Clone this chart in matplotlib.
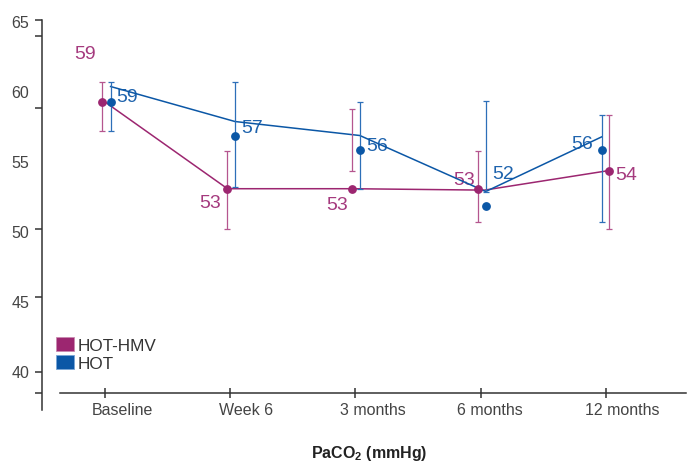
import matplotlib
matplotlib.use("Agg")
import matplotlib.pyplot as plt
from matplotlib.patches import Patch

plt.rcParams["font.family"] = ["Liberation Sans Narrow", "Liberation Sans", "DejaVu Sans"]
plt.rcParams["mathtext.default"] = "regular"

# --- data ---
categories = ["Baseline", "Week 6", "3 months", "6 months", "12 months"]

hmv_mean = [59.2, 53.0, 53.0, 53.0, 54.3]
hmv_hi = [60.6, 55.7, 58.7, 55.7, 58.3]
hmv_lo = [57.1, 50.1, 54.3, 50.6, 50.1]
hmv_line = [59.2, 53.0, 53.0, 52.9, 54.3]
hmv_text = ["59", "53", "53", "53", "54"]

hot_mean = [59.2, 56.8, 55.8, 51.8, 55.8]
hot_hi = [60.6, 60.6, 59.2, 59.3, 58.3]
hot_lo = [57.1, 53.1, 53.0, 52.8, 50.6]
hot_line = [60.3, 57.8, 56.8, 52.8, 56.7]
hot_text = ["59", "57", "56", "52", "56"]

y_labels = [40, 45, 50, 55, 60, 65]
y_marks = [65.05, 63.93, 58.76, 50.12, 45.24, 39.89, 38.39]

# --- styling ---
MAGENTA = "#9c2670"
MAGENTA_TXT = "#a53a7e"
MAGENTA_ERR = "#b5568f"
BLUE = "#0b57a6"
BLUE_TXT = "#1e63ad"
BLUE_ERR = "#2d6fb8"
AXIS = "#333333"
TEXT = "#444444"

hmv_dodge = [-0.022, -0.022, -0.026, -0.024, 0.026]
hot_dodge = [0.045, 0.038, 0.035, 0.040, -0.035]
hmv_line_dodge = [0.0, -0.022, -0.026, 0.030, 0.026]
hot_line_dodge = hot_dodge

# label offsets from the dot, in pixels (text baseline)
hmv_lab_off = [(-17, 44), (-17, -18), (-15, -20), (-14, 5), (17, -8)]
hot_lab_off = [(16, 1), (17, 4), (17, 0), (17, 28), (-19, 2)]


def whiskers(ax, xs, lo, hi, color):
    # the bars do not always enclose the mean, so draw them directly
    ax.vlines(xs, lo, hi, color=color, lw=0.9, zorder=3)
    ax.plot(xs, lo, "_", color=color, ms=4.5, mew=0.9, zorder=3)
    ax.plot(xs, hi, "_", color=color, ms=4.5, mew=0.9, zorder=3)


def main():
    fig = plt.figure(figsize=(6.91, 4.64), dpi=100)
    ax = fig.add_axes([0, 0, 1, 1])
    ax.set_xlim(-0.838, 4.679)
    ax.set_ylim(33.41, 66.55)
    ax.patch.set_alpha(0)

    idx = range(len(categories))
    hx = [i + d for i, d in zip(idx, hmv_dodge)]
    tx = [i + d for i, d in zip(idx, hot_dodge)]
    hlx = [i + d for i, d in zip(idx, hmv_line_dodge)]
    tlx = [i + d for i, d in zip(idx, hot_line_dodge)]

    ax.plot(hlx, hmv_line, color=MAGENTA, lw=1.1, zorder=2)
    ax.plot(tlx, hot_line, color=BLUE, lw=1.1, zorder=2)

    whiskers(ax, hx, hmv_lo, hmv_hi, MAGENTA_ERR)
    whiskers(ax, tx, hot_lo, hot_hi, BLUE_ERR)

    ax.plot(hx, hmv_mean, "o", color=MAGENTA, ms=5.3, zorder=4)
    ax.plot(tx, hot_mean, "o", color=BLUE, ms=5.3, zorder=4)

    for x, y, t, off in zip(hx, hmv_mean, hmv_text, hmv_lab_off):
        ax.annotate(t, (x, y), xytext=off, textcoords="offset pixels",
                    ha="center", va="baseline", fontsize=14,
                    color=MAGENTA_TXT, zorder=1)
    for x, y, t, off in zip(tx, hot_mean, hot_text, hot_lab_off):
        ax.annotate(t, (x, y), xytext=off, textcoords="offset pixels",
                    ha="center", va="baseline", fontsize=14,
                    color=BLUE_TXT, zorder=1)

    # axes
    for s in ("top", "right"):
        ax.spines[s].set_visible(False)
    ax.spines["left"].set_position(("data", -0.499))
    ax.spines["left"].set_bounds(37.19, 65.05)
    ax.spines["bottom"].set_position(("data", 38.41))
    ax.spines["bottom"].set_bounds(-0.359, 4.64)
    for s in ("left", "bottom"):
        ax.spines[s].set_color(AXIS)
        ax.spines[s].set_linewidth(1.1)

    ax.set_yticks(y_labels)
    ax.set_yticklabels([str(v) for v in y_labels])
    ax.tick_params(axis="y", which="major", length=0, pad=9.5,
                   labelsize=11.5, labelcolor=TEXT)
    ax.set_yticks(y_marks, minor=True)
    ax.tick_params(axis="y", which="minor", length=5, width=1.1,
                   color=AXIS, direction="out")

    ax.set_xticks(list(idx))
    ax.set_xticklabels([])
    ax.tick_params(axis="x", which="major", length=6.5, width=1.1,
                   color=AXIS, direction="inout")
    x_lab_shift = [17, 16, 17, 9, 16]
    for i, (c, dx) in enumerate(zip(categories, x_lab_shift)):
        ax.annotate(c, (i, 38.41), xytext=(dx, -21), textcoords="offset pixels",
                    ha="center", va="baseline", fontsize=11.5, color=TEXT,
                    annotation_clip=False)

    fig.text(369 / 691, 1 - 458 / 464, "PaCO$_2$ (mmHg)", ha="center",
             va="baseline", fontsize=11.5, fontweight="bold", color="#222222")

    handles = [Patch(facecolor=MAGENTA, edgecolor="#c98ab0", lw=0.6),
               Patch(facecolor=BLUE, edgecolor="#7aa6d6", lw=0.6)]
    ax.legend(handles, ["HOT-HMV", "HOT"], loc="lower left",
              bbox_to_anchor=(56 / 691, 1 - 372 / 464),
              bbox_transform=fig.transFigure, frameon=False,
              fontsize=12.3, labelcolor="#333333", borderpad=0,
              borderaxespad=0, handlelength=1.03, handleheight=0.92,
              handletextpad=0.25, labelspacing=0.12)

    fig.savefig("out.png", dpi=100, facecolor="white")
    plt.close(fig)


if __name__ == "__main__":
    main()
